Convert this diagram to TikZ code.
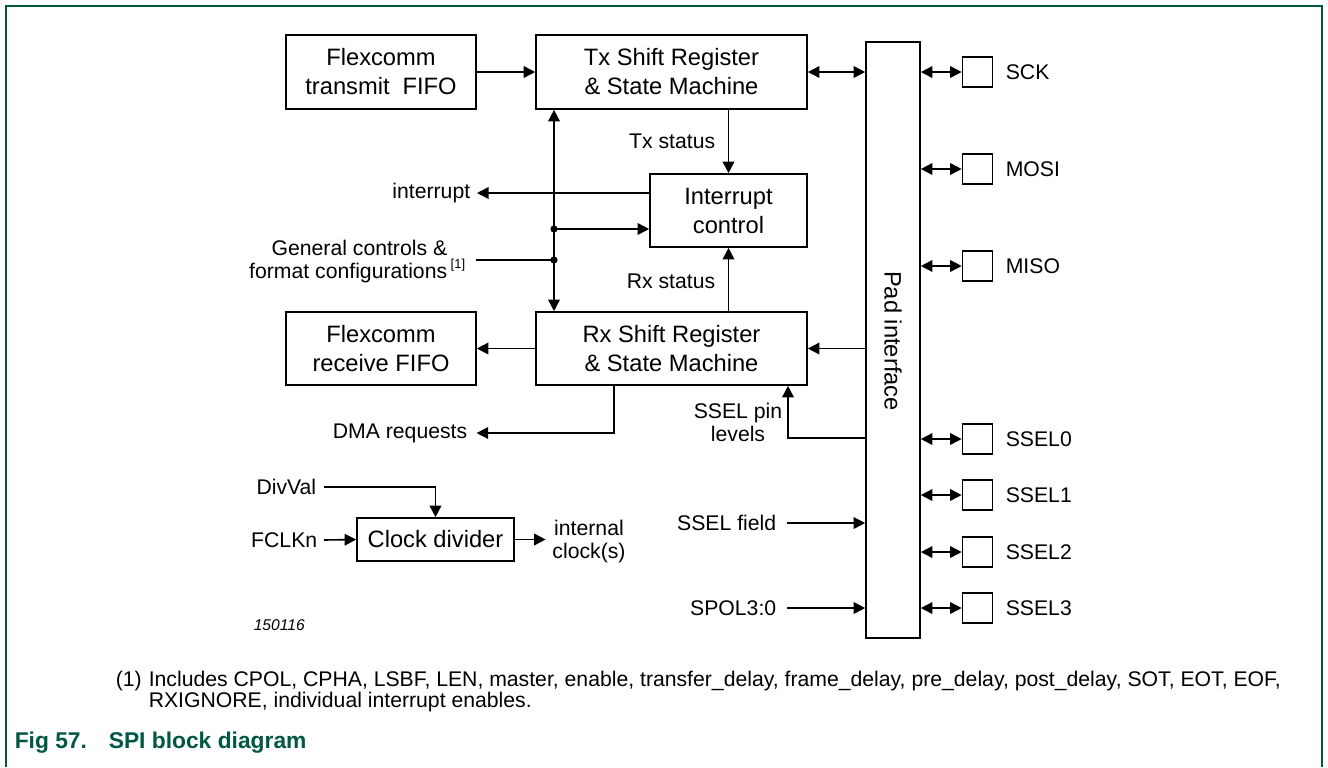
\documentclass[tikz,border=0pt]{standalone}
\usepackage{fontspec}
\setmainfont{Liberation Sans}
\usetikzlibrary{arrows.meta}
\definecolor{nxpgreen}{RGB}{0,88,68}
\begin{document}
\begin{tikzpicture}[x=0.5pt,y=-0.5pt,
  line width=0.8pt,
  box/.style={draw, line width=0.8pt, inner sep=0pt, font=\fontsize{11.85}{14.5}\selectfont, align=center},
  pin/.style={draw, minimum width=15pt, minimum height=15pt, inner sep=0pt},
  lbl/.style={font=\fontsize{10.6}{11.5}\selectfont, inner sep=0pt},
  arr/.style={-{Triangle[length=5.8pt,width=5.8pt]}},
  biarr/.style={{Triangle[length=5.8pt,width=5.8pt]}-{Triangle[length=5.8pt,width=5.8pt]}},
  dot/.style={circle, fill, inner sep=0pt, minimum size=3.6pt}
]
\useasboundingbox (0,0) rectangle (1328,767);
\draw[nxpgreen, line width=1pt] (6,767) -- (6,6) -- (1322,6) -- (1322,767);

% main boxes
\node[box, minimum width=95pt, minimum height=37pt] (ftx) at (381,72) {Flexcomm\\transmit\hspace{0.55em}FIFO};
\node[box, minimum width=135.5pt, minimum height=37pt] (tx) at (671.5,72) {Tx Shift Register\\\& State Machine};
\node[box, minimum width=78.5pt, minimum height=36.5pt] (ic) at (728.5,210.5) {Interrupt\\control};
\node[box, minimum width=135.5pt, minimum height=36.5pt] (rx) at (671.5,348.5) {Rx Shift Register\\\& State Machine};
\node[box, minimum width=95pt, minimum height=36.5pt] (frx) at (381,348.5) {Flexcomm\\receive FIFO};
\node[box, minimum width=27pt, minimum height=298pt] (pad) at (893,340) {};
\node[font=\fontsize{11.85}{14.5}\selectfont, rotate=-90] (padt) at (893,341) {Pad interface};
\node[box, minimum width=78.5pt, minimum height=21.5pt] (clk) at (435.5,539.5) {Clock divider};

% pins
\foreach \n/\t/\y in {psck/SCK/72, pmosi/MOSI/169, pmiso/MISO/266, ps0/SSEL0/439, ps1/SSEL1/495, ps2/SSEL2/552, ps3/SSEL3/608}{
  \node[pin] (\n) at (977.5,\y) {};
  \node[lbl, anchor=west] (l\n) at (1005,\y) {\t};
  \draw[biarr] (pad.east |- \n) -- (\n.west);
}

% top connections
\draw[arr] (ftx.east) -- (tx.west);
\draw[biarr] (tx.east) -- (pad.west |- tx.east);

% bus
\coordinate (bus) at (554,0);
\draw[biarr] (tx.south -| bus) -- (rx.north -| bus);
\node[dot] (j1) at (554,229) {};
\node[dot] (j2) at (554,260) {};
\draw[arr] (j1.center) -- (ic.west |- j1);

% interrupt
\node[lbl, anchor=east] (lint) at (471,193) {interrupt};
\draw[arr] (ic.west |- lint) -- ([xshift=3pt]lint.east);

% general controls
\node[lbl, anchor=east, align=right] (lgen) at (448,262) {General controls \&\\format configurations\rlap{\,\raisebox{0.9ex}{\fontsize{6.5}{7}\selectfont[1]}}};
\coordinate (gstart) at (476,260);
\draw (gstart) -- (j2.center);

% status
\draw[arr] (tx.south -| ic.north) -- (ic.north);
\node[lbl, anchor=east] (ltxs) at (716,141) {Tx status};
\draw[arr] (rx.north -| ic.south) -- (ic.south);
\node[lbl, anchor=east] (lrxs) at (716,281) {Rx status};

% rx side
\draw[arr] (rx.west) -- (frx.east);
\draw[arr] (pad.west |- rx.east) -- (rx.east);
\coordinate (sp) at (788,438);
\draw[arr] (pad.west |- sp) -- (sp) -- (sp |- rx.south);
\node[lbl, align=center] (lsp) at (738,422) {SSEL pin\\levels};

\coordinate (dm) at (614,433);
\node[lbl, anchor=east] (ldma) at (468,433) {DMA requests};
\draw[arr] (rx.south -| dm) -- (dm) -- ([xshift=4.3pt]ldma.east);

% SSEL field / SPOL
\node[lbl, anchor=east] (lsf) at (777,523) {SSEL field};
\draw[arr] ([xshift=5pt]lsf.east) -- (pad.west |- lsf);
\node[lbl, anchor=east] (lsp3) at (777,608) {SPOL3:0};
\draw[arr] ([xshift=5pt]lsp3.east) -- (pad.west |- lsp3);

% clock
\node[lbl, anchor=east] (lfclk) at (318,540) {FCLKn};
\draw[arr] ([xshift=3pt]lfclk.east) -- (clk.west);
\node[lbl, anchor=east] (ldiv) at (317,487) {DivVal};
\draw[arr] ([xshift=3.5pt]ldiv.east) -- (clk.north |- ldiv.east) -- (clk.north);
\node[lbl, align=center] (lout) at (589,542) {internal\\clock(s)};
\draw[arr] (clk.east) -- ([xshift=-3pt]lout.west |- clk.east);

\node[font=\fontsize{7.8}{9}\selectfont\itshape, anchor=west, inner sep=0pt] (figno) at (253,625) {150116};

% footnote
\node[anchor=west, inner sep=0pt, font=\fontsize{10.6}{10}\selectfont] (fn1) at (115,681) {(1)};
\node[anchor=west, inner sep=0pt, font=\fontsize{10.6}{10}\selectfont] (fn2) at (148,681) {Includes CPOL, CPHA, LSBF, LEN, master, enable, transfer\_delay, frame\_delay, pre\_delay, post\_delay, SOT, EOT, EOF,};
\node[anchor=west, inner sep=0pt, font=\fontsize{10.6}{10}\selectfont] (fn3) at (148,702) {RXIGNORE, individual interrupt enables.};

% caption
\node[anchor=west, inner sep=0pt, text=nxpgreen, font=\bfseries\fontsize{11.4}{13}\selectfont] (capa) at (14,743) {Fig 57.};
\node[anchor=west, inner sep=0pt, text=nxpgreen, font=\bfseries\fontsize{11.4}{13}\selectfont] (capb) at (108,743) {SPI block diagram};
\end{tikzpicture}
\end{document}
